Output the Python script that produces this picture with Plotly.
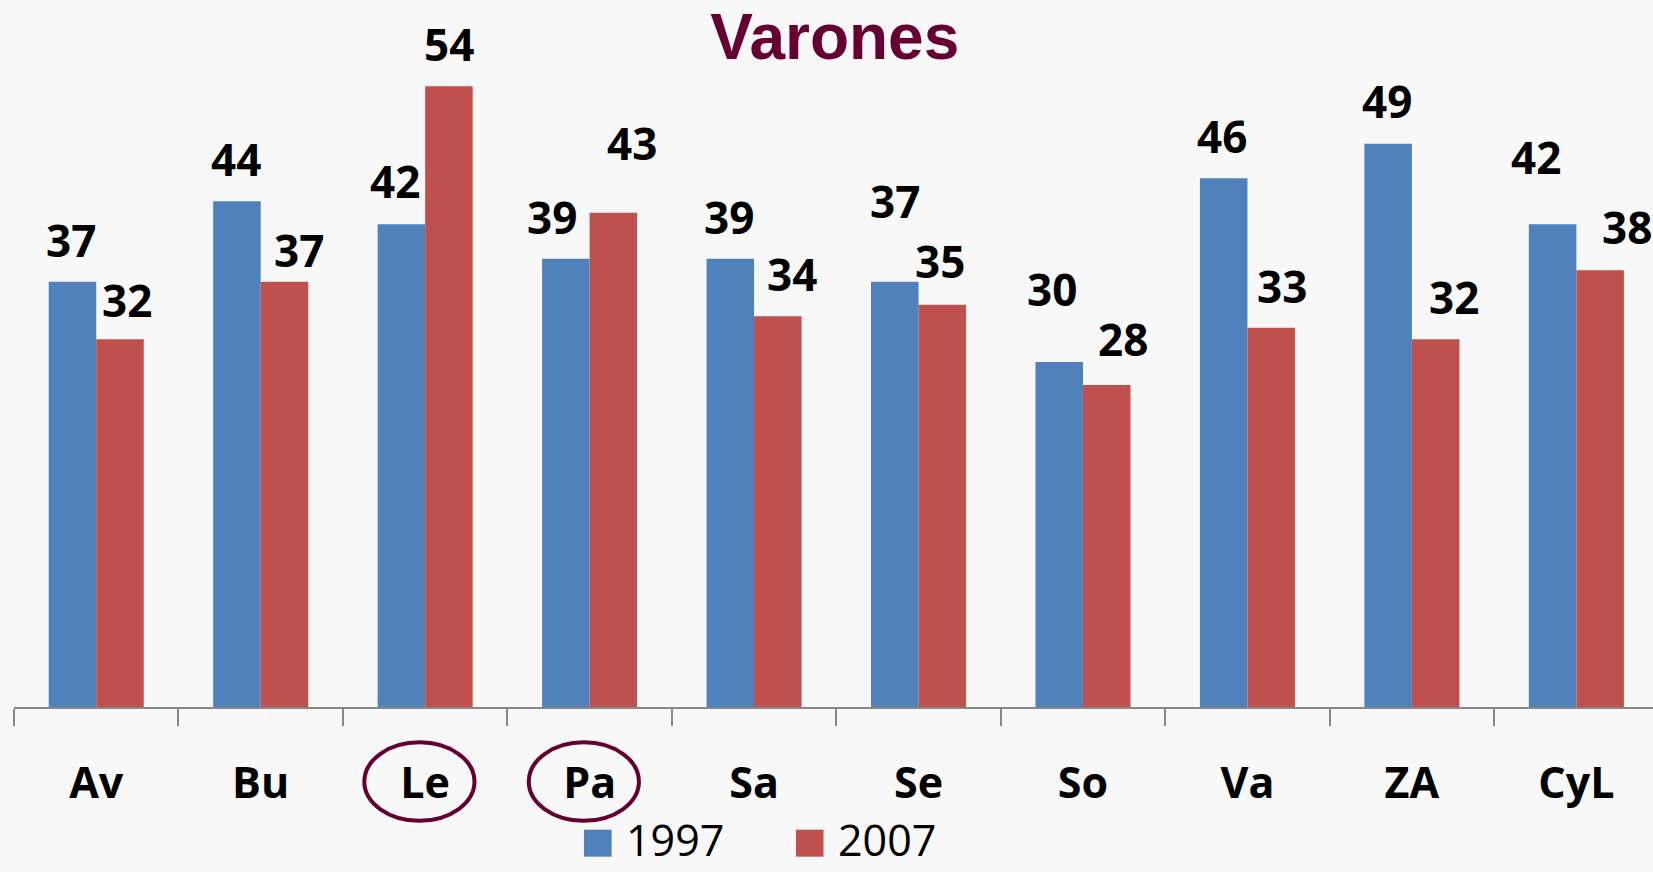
import plotly.graph_objects as go

# ---- data ----
categories = ["Av", "Bu", "Le", "Pa", "Sa", "Se", "So", "Va", "ZA", "CyL"]
values_1997 = [37, 44, 42, 39, 39, 37, 30, 46, 49, 42]
values_2007 = [32, 37, 54, 43, 34, 35, 28, 33, 32, 38]
series_names = ["1997", "2007"]
highlighted = ["Le", "Pa"]

# ---- style ----
COL_1997 = "#4F81BD"
COL_2007 = "#C0504D"
MAROON = "#660033"
BG = "#f8f8f8"
LABEL_FONT = dict(family="Open Sans", size=44, color="black", weight="bold")

# label placement tweaks (pixels): gap above bar top, horizontal nudge
gap_1997 = [23, 23, 24, 23, 23, 62, 54, 23, 24, 48]
dx_1997 = [-1, -1, -6, -14, -1, 0, -7, -2, -1, -17]
gap_2007 = [20, 13, 23, 51, 23, 25, 27, 23, 23, 24]
dx_2007 = [7, 15, 0, 19, 14, -2, 16, 11, 18, 27]

BARGAP = 0.422
half = (1 - BARGAP) / 4.0  # offset of each bar centre from category centre

fig = go.Figure()
fig.add_trace(go.Bar(name=series_names[0], x=categories, y=values_1997,
                     marker=dict(color=COL_1997, line=dict(width=0))))
fig.add_trace(go.Bar(name=series_names[1], x=categories, y=values_2007,
                     marker=dict(color=COL_2007, line=dict(width=0))))

annotations = []
BASE_SHIFT = -13  # digit baseline sits above annotation box bottom
for i, (v1, v2) in enumerate(zip(values_1997, values_2007)):
    annotations.append(dict(x=i - half, y=v1, xref="x", yref="y", text=str(v1),
                            showarrow=False, yanchor="bottom", xanchor="center",
                            yshift=gap_1997[i] + BASE_SHIFT, xshift=dx_1997[i],
                            font=LABEL_FONT))
    annotations.append(dict(x=i + half, y=v2, xref="x", yref="y", text=str(v2),
                            showarrow=False, yanchor="bottom", xanchor="center",
                            yshift=gap_2007[i] + BASE_SHIFT, xshift=dx_2007[i],
                            font=LABEL_FONT))

# custom legend (bottom of figure)
legend_items = [(series_names[0], COL_1997, 0.3478), (series_names[1], COL_2007, 0.4771)]
shapes = []
for name, col, x0 in legend_items:
    shapes.append(dict(type="rect", xref="paper", yref="paper",
                       x0=x0, x1=x0 + 0.0168, y0=-0.1735, y1=-0.2117,
                       fillcolor=col, line=dict(width=0)))
    annotations.append(dict(x=x0 + 0.0245, y=-0.2320, xref="paper", yref="paper",
                            text=name, showarrow=False, xanchor="left", yanchor="bottom",
                            font=dict(family="Open Sans", size=43, color="black")))

# highlight circles around selected categories
for cat in highlighted:
    i = categories.index(cat)
    shapes.append(dict(type="circle", xref="x", yref="paper",
                       x0=i - 0.37, x1=i + 0.30, y0=-0.050, y1=-0.161,
                       line=dict(color=MAROON, width=4), fillcolor="rgba(0,0,0,0)"))

fig.update_layout(
    width=1653, height=872,
    margin=dict(l=14, r=0, t=0, b=165),
    paper_bgcolor=BG, plot_bgcolor=BG,
    barmode="group", bargap=BARGAP, bargroupgap=0,
    showlegend=False,
    title=dict(text="<b>Varones</b>", x=0.505, xanchor="center", y=0.958, yanchor="middle",
               font=dict(family="Liberation Sans", size=64, color=MAROON)),
    annotations=annotations,
    shapes=shapes,
    xaxis=dict(type="category", range=[-0.5, 9.466], tickson="boundaries",
               ticks="outside", ticklen=17, tickcolor="#888888", tickwidth=2,
               showline=True, linecolor="#888888", linewidth=2,
               showgrid=False, zeroline=False, ticklabelstandoff=37,
               tickfont=dict(family="Open Sans", size=43, color="black", weight="bold")),
    yaxis=dict(range=[0, 61.5], visible=False, showgrid=False, zeroline=False),
)

fig.write_html("out.html", config={"displayModeBar": False},
               post_script="document.body.style.margin='0';document.body.style.overflow='hidden';")
